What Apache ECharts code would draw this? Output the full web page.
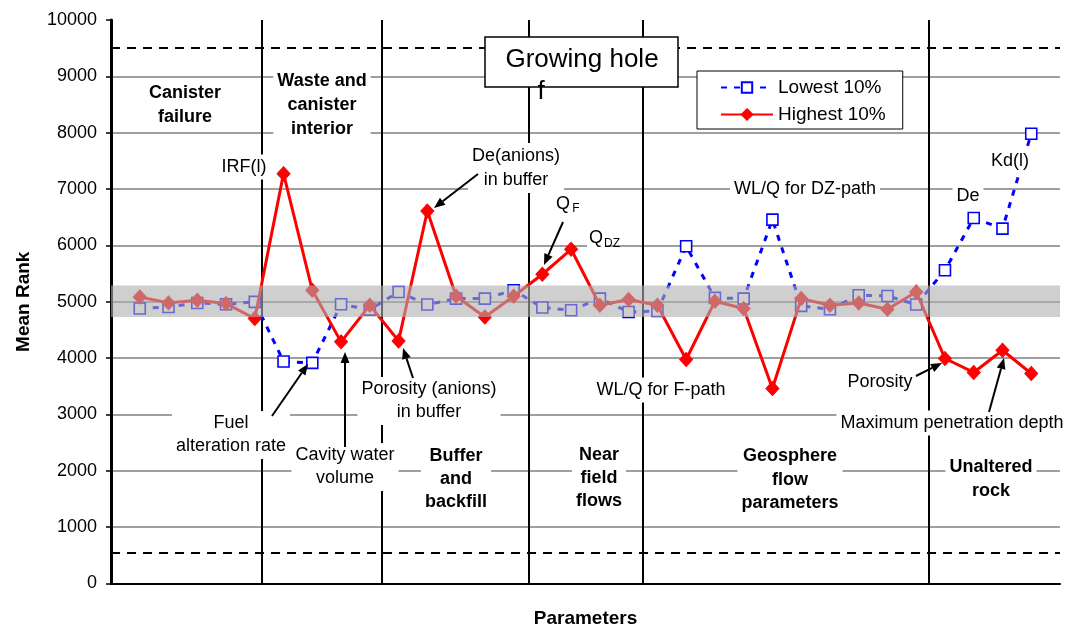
<!DOCTYPE html>
<html><head><meta charset="utf-8">
<script src="https://cdn.jsdelivr.net/npm/echarts@6/dist/echarts.min.js"></script>
<style>html,body{margin:0;padding:0;background:#fff}#c{width:1068px;height:628px}</style>
</head><body><div id="c"></div>
<script>
// ---- data ----
const paramIndex = [1,2,3,4,5,6,7,8,9,10,11,12,13,14,15,16,17,18,19,20,21,22,23,24,25,26,27,28,29,30,31,32];
const lowest10 = [4879,4908,4979,4955,4997,3940,3915,4955,4861,5174,4950,5056,5056,5204,4897,4850,5056,4819,4835,5984,5068,5056,6457,4926,4867,5115,5103,4950,5559,6486,6298,7982];
const highest10 = [5085,4980,5027,4968,4702,7273,5204,4288,4938,4305,6610,5098,4731,5098,5488,5931,4938,5039,4938,3975,5009,4879,3461,5056,4938,4979,4867,5174,3993,3745,4140,3727];
const groupBoundaries = [5.25, 9.42, 14.53, 18.5, 28.44];
const referenceLevels = [550, 9500];
const bandRange = [4730, 5290];
const seriesNames = ['Lowest 10%', 'Highest 10%'];

const FONT = 'Liberation Sans, Arial, sans-serif';
const chart = echarts.init(document.getElementById('c'));

function pairs(xs, ys){ return xs.map((x,i)=>[x, ys[i]]); }

function txt(text, x, y, opts){
  opts = opts || {};
  return {type:'text', z:100, x:x, y:y, style:{
    text:text, fill:'#000', font:(opts.bold?'bold ':'') + (opts.size||18) + 'px ' + FONT,
    align:'center', verticalAlign:'middle', lineHeight:opts.lh||23,
    backgroundColor: opts.nobg ? null : '#fff', padding: opts.pad || [1,4]
  }};
}
function arrow(x1,y1,x2,y2){
  const dx=x2-x1, dy=y2-y1, L=Math.hypot(dx,dy), ux=dx/L, uy=dy/L;
  const hl=11, hw=4.5, bx=x2-ux*hl, by=y2-uy*hl;
  return [
    {type:'line', z:101, shape:{x1:x1,y1:y1,x2:bx,y2:by}, style:{stroke:'#000', lineWidth:2}},
    {type:'polygon', z:101, shape:{points:[[x2,y2],[bx-uy*hw,by+ux*hw],[bx+uy*hw,by-ux*hw]]}, style:{fill:'#000'}}
  ];
}

const graphics = [
  {type:'rect', z:100, shape:{x:485,y:37,width:193,height:50}, style:{fill:'#fff', stroke:'#000', lineWidth:1.5}},
  {type:'text', z:101, x:582, y:60, style:{text:'Growing hole', font:'26px '+FONT, fill:'#000', align:'center', verticalAlign:'middle'}},
  {type:'text', z:101, x:541, y:92, style:{text:'f', font:'26px '+FONT, fill:'#000', align:'center', verticalAlign:'middle'}},
  txt('Canister\nfailure', 185, 105, {bold:true, lh:24, pad:[0,4]}),
  txt('Waste and\ncanister\ninterior', 322, 105, {bold:true, lh:24, pad:[0,4]}),
  txt('Buffer\nand\nbackfill', 456, 479, {bold:true, lh:23}),
  txt('Near\nfield\nflows', 599, 478, {bold:true, lh:23}),
  txt('Geosphere\nflow\nparameters', 790, 480, {bold:true, lh:23.5}),
  txt('Unaltered\nrock', 991, 479, {bold:true, lh:24}),
  txt('IRF(l)', 244, 167, {}),
  txt('De(anions)\nin buffer', 516, 168, {lh:24}),
  txt('Porosity (anions)\nin buffer', 429, 401, {lh:23}),
  txt('Fuel\nalteration rate', 231, 435, {lh:23}),
  txt('Cavity water\nvolume', 345, 467, {lh:23}),
  txt('WL/Q for F-path', 661, 390, {}),
  txt('WL/Q for DZ-path', 805, 189, {}),
  txt('Porosity', 880, 382, {}),
  txt('Maximum penetration depth', 952, 423, {}),
  txt('De', 968, 196, {}),
  txt('Kd(l)', 1010, 161, {}),
  txt('Q', 563, 204, {nobg:true, pad:[0,0]}),
  txt('F', 576, 209, {nobg:true, pad:[0,0], size:12}),
  txt('Q', 596, 238, {pad:[1,2]}),
  txt('DZ', 612, 244, {nobg:true, pad:[0,0], size:12})
].concat(
  arrow(272,416,308,364),
  arrow(345,447,345,352),
  arrow(478,174,434,208),
  arrow(413,378,403,348),
  arrow(563,222,544,265),
  arrow(916,376,942,363),
  arrow(989,412,1004,358)
);

chart.setOption({
  animation:false,
  backgroundColor:'#fff',
  grid:{left:111, right:8, top:20, bottom:44.5, containLabel:false, outerBoundsMode:'none'},
  legend:{
    data:seriesNames, orient:'vertical', left:697, top:71,
    backgroundColor:'#fff', borderColor:'#000', borderWidth:1, borderRadius:0,
    padding:[7,17,5,23], itemWidth:52, itemHeight:13, itemGap:8,
    textStyle:{fontSize:19, fontFamily:FONT, color:'#000'}, z:100
  },
  xAxis:{
    type:'value', min:0, max:33, name:'Parameters', nameLocation:'middle', nameGap:26,
    nameTextStyle:{fontSize:19, fontWeight:'bold', fontFamily:FONT, color:'#000'},
    axisLine:{show:true, onZero:false, lineStyle:{color:'#000', width:2}},
    axisTick:{show:false}, axisLabel:{show:false}, splitLine:{show:false}
  },
  yAxis:{
    type:'value', min:0, max:10000, interval:1000, name:'Mean Rank', nameLocation:'middle', nameGap:78,
    nameTextStyle:{fontSize:19, fontWeight:'bold', fontFamily:FONT, color:'#000'},
    axisLine:{show:true, lineStyle:{color:'#000', width:3}},
    axisTick:{show:true, length:5, lineStyle:{color:'#000', width:1.5}},
    axisLabel:{fontSize:18, fontFamily:FONT, color:'#000', margin:14, formatter:v=>String(v)},
    splitLine:{show:true, showMinLine:false, showMaxLine:false, lineStyle:{color:'#7f7f7f', width:1.5}}
  },
  series:[
    {
      name:'Lowest 10%', type:'line', z:2, data:pairs(paramIndex, lowest10),
      symbol:'rect', symbolSize:11, showAllSymbol:true,
      lineStyle:{color:'#0000ff', width:3, type:[6,7]},
      itemStyle:{color:'#fff', borderColor:'#0000ff', borderWidth:1.6},
      markLine:{
        silent:true, symbol:'none', label:{show:false}, z:1,
        lineStyle:{color:'#000', width:2, type:'solid'},
        data: groupBoundaries.map(v=>({xAxis:v}))
      }
    },
    {
      name:'Highest 10%', type:'line', z:3, data:pairs(paramIndex, highest10),
      symbol:'diamond', symbolSize:[13,14], showAllSymbol:true,
      lineStyle:{color:'#ff0000', width:3},
      itemStyle:{color:'#ff0000', borderColor:'#ff0000', borderWidth:1},
      markLine:{
        silent:true, symbol:'none', label:{show:false}, z:1,
        lineStyle:{color:'#000', width:2, type:[9,7]},
        data: referenceLevels.map(v=>({yAxis:v}))
      }
    },
    {
      name:'band', type:'line', z:10, data:[], silent:true,
      markArea:{
        silent:true, z:20,
        itemStyle:{color:'rgba(175,175,175,0.6)'},
        data:[[{yAxis:bandRange[0]},{yAxis:bandRange[1]}]]
      }
    }
  ],
  graphic:{elements:graphics}
});
</script>
</body></html>
